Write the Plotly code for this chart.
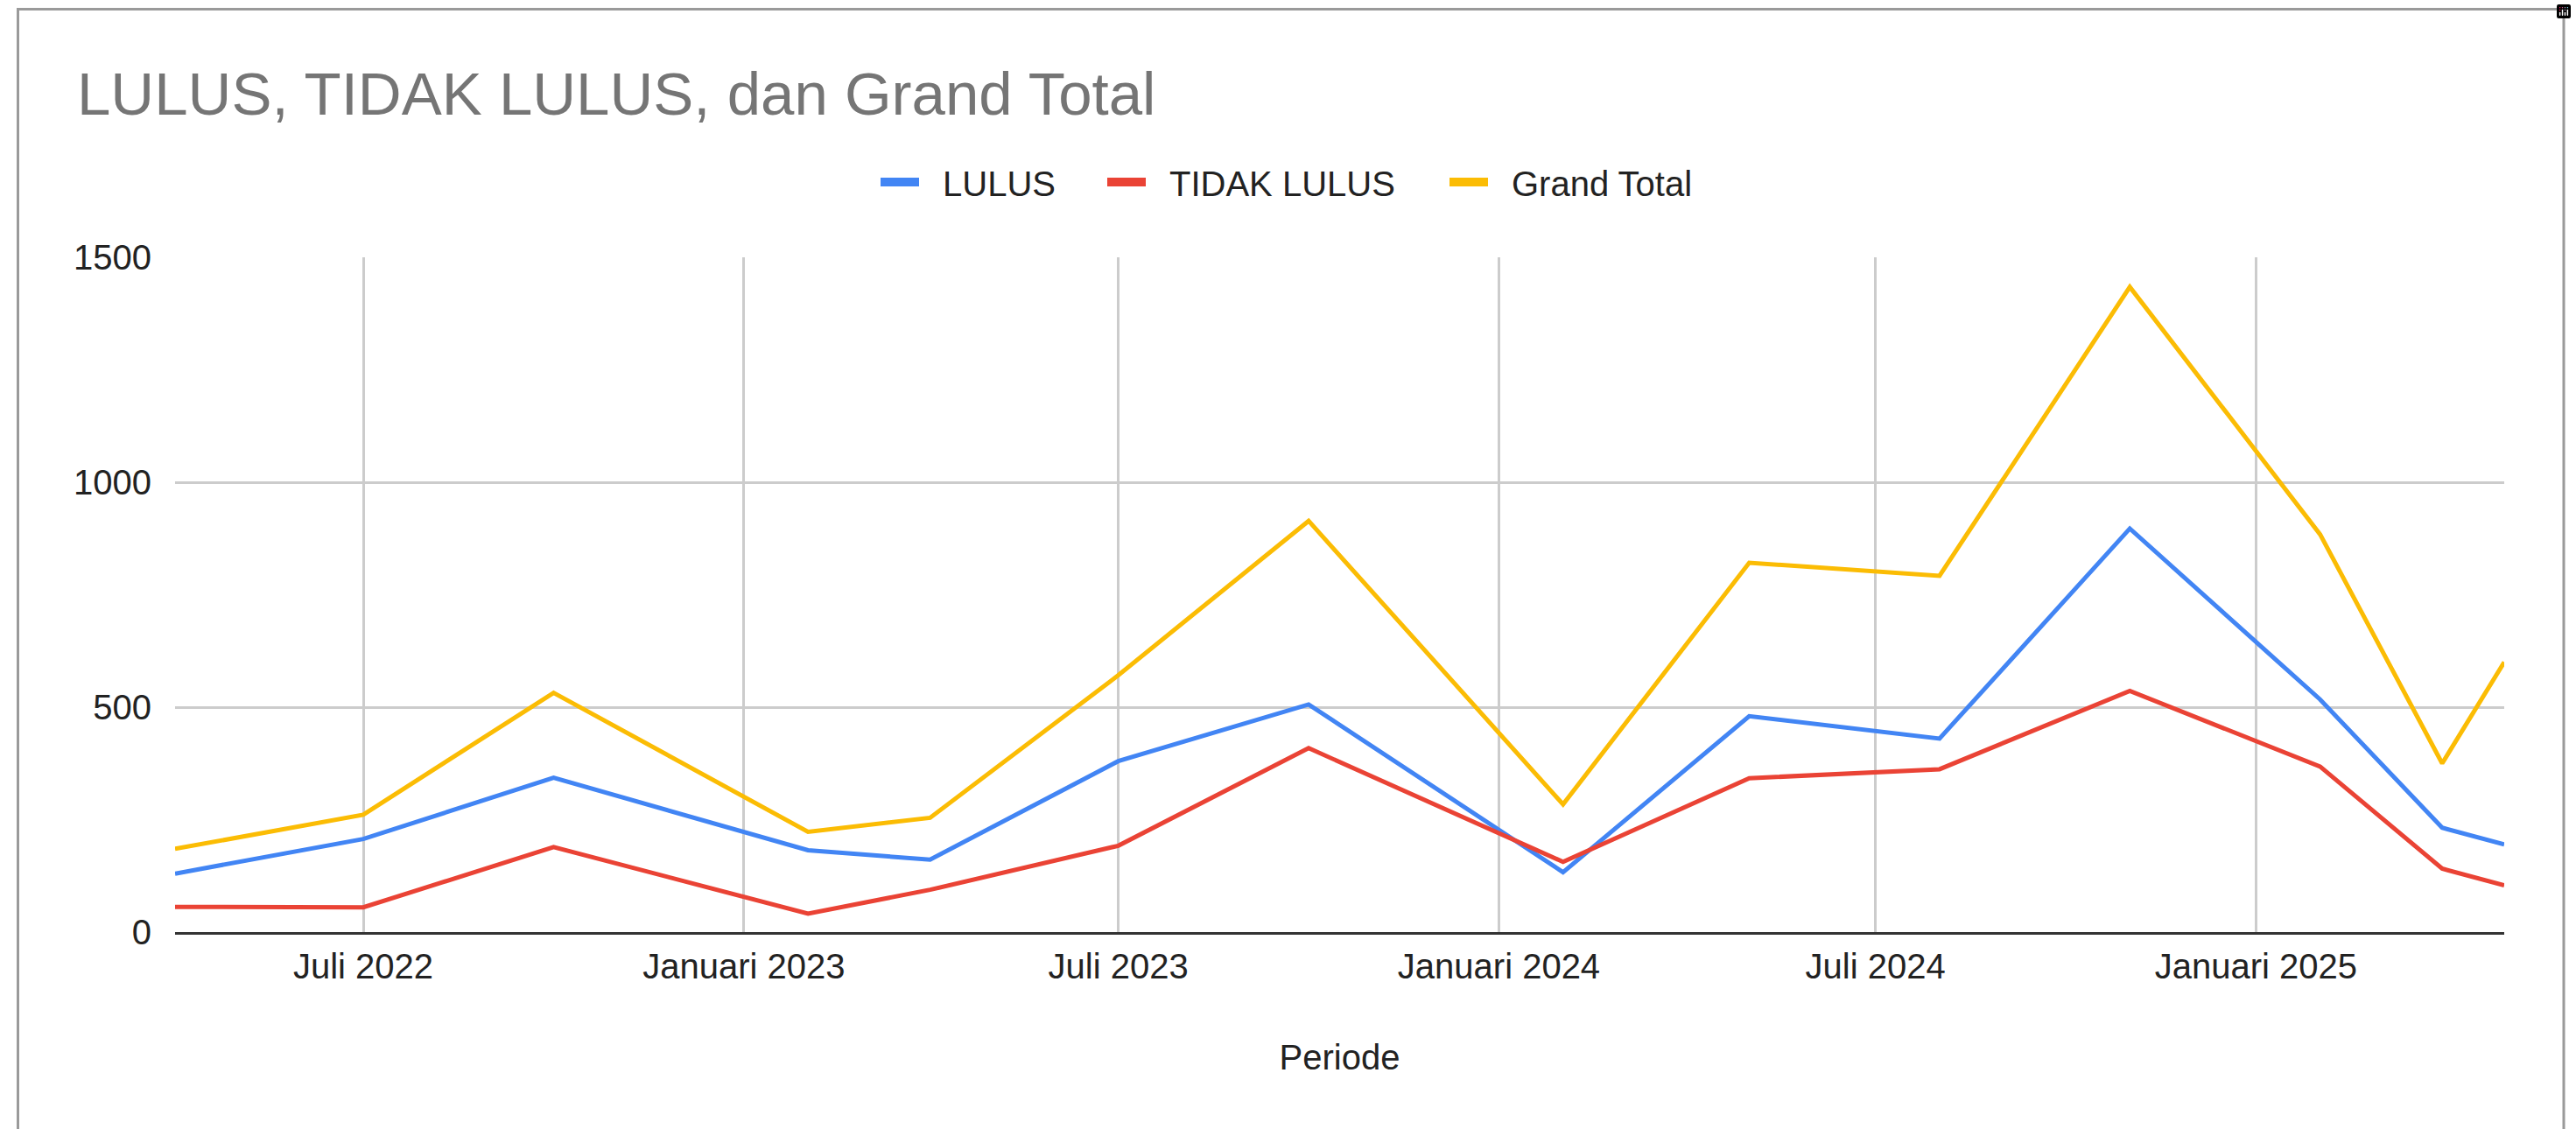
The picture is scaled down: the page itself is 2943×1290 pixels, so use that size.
import plotly.graph_objects as go

# ---- data ----
periode = ["2022-04-01", "2022-07-01", "2022-10-01", "2023-02-01", "2023-04-01",
           "2023-07-01", "2023-10-01", "2024-02-01", "2024-05-01", "2024-08-01",
           "2024-11-01", "2025-02-01", "2025-04-01", "2025-05-01"]
lulus = [130, 207, 343, 182, 161, 380, 506, 133, 480, 430, 897, 517, 232, 195]
tidak_lulus = [56, 55, 189, 41, 94, 192, 409, 156, 342, 362, 536, 368, 141, 104]
grand_total = [185, 261, 532, 223, 254, 571, 914, 284, 821, 792, 1434, 884, 375, 600]

series_names = ["LULUS", "TIDAK LULUS", "Grand Total"]
series_colors = ["#4285F4", "#EA4335", "#FBBC04"]

x_tickvals = ["2022-07-01", "2023-01-01", "2023-07-01", "2024-01-01", "2024-07-01", "2025-01-01"]
x_ticktext = ["Juli 2022", "Januari 2023", "Juli 2023", "Januari 2024", "Juli 2024", "Januari 2025"]
y_tickvals = [0, 500, 1000, 1500]

chart_title = "LULUS, TIDAK LULUS, dan Grand Total"
x_title = "Periode"

# ---- figure ----
W, H = 2943, 1290
ML, MR, MT, MB = 200, 82, 294, 225
FONT = "Liberation Sans, Arial, sans-serif"

fig = go.Figure()
for name, vals, col in zip(series_names, [lulus, tidak_lulus, grand_total], series_colors):
    fig.add_trace(go.Scatter(x=periode, y=vals, mode="lines", name=name,
                             line=dict(color=col, width=5), showlegend=False))

# legend entries: one small legend per series so each swatch/label sits where the reference has it
legend_ids = ["legend", "legend2", "legend3"]
legend_left_px = [1001, 1260, 1651]
for name, col, lid in zip(series_names, series_colors, legend_ids):
    fig.add_trace(go.Scatter(x=[None], y=[None], mode="lines", name=name, legend=lid,
                             line=dict(color=col, width=14, dash="44px,400px"),
                             showlegend=True))

legend_common = dict(orientation="h", xanchor="left", xref="container",
                     y=1 - 208 / H, yanchor="middle", yref="container",
                     font=dict(family=FONT, size=40, color="#222222"),
                     itemwidth=66, bgcolor="rgba(0,0,0,0)", borderwidth=0)
layout_legends = {lid: dict(legend_common, x=lx / W) for lid, lx in zip(legend_ids, legend_left_px)}

pw = W - ML - MR
ph = H - MT - MB
def px_to_paper_x(px):
    return (px - ML) / pw
def px_to_paper_y(py):
    return (H - MB - py) / ph

fig.add_shape(type="rect", xref="paper", yref="paper",
              x0=px_to_paper_x(20.5), x1=px_to_paper_x(2929),
              y0=px_to_paper_y(1320), y1=px_to_paper_y(10.5),
              line=dict(color="#9a9a9a", width=3), fillcolor="rgba(0,0,0,0)", layer="above")

fig.update_layout(
    width=W, height=H,
    margin=dict(l=ML, r=MR, t=MT, b=MB, pad=0),
    paper_bgcolor="white", plot_bgcolor="white",
    font=dict(family=FONT, color="#222222", size=40),
    modebar=dict(bgcolor="rgba(0,0,0,0)", color="rgba(0,0,0,0)", activecolor="rgba(0,0,0,0)"),
    title=dict(text=chart_title, x=88 / W, xanchor="left", xref="container",
               y=1 - 107 / H, yanchor="middle", yref="container",
               font=dict(family=FONT, size=69, color="#757575")),
    xaxis=dict(type="date", range=[periode[0], periode[-1]],
               tickmode="array", tickvals=x_tickvals, ticktext=x_ticktext,
               showgrid=True, gridcolor="#cccccc", gridwidth=3,
               showline=True, linecolor="#333333", linewidth=3,
               zeroline=False, ticks="outside", ticklen=2, tickcolor="rgba(0,0,0,0)",
               tickfont=dict(family=FONT, size=40, color="#222222"),
               title=dict(text=x_title, standoff=69,
                          font=dict(family=FONT, size=40, color="#222222"))),
    yaxis=dict(range=[0, 1500], tickmode="array", tickvals=y_tickvals,
               showgrid=True, gridcolor="#cccccc", gridwidth=2.5,
               zeroline=False, showline=False,
               ticks="outside", ticklen=18, tickcolor="rgba(0,0,0,0)",
               ticklabelstandoff=0,
               tickfont=dict(family=FONT, size=40, color="#222222")),
    **layout_legends,
)

fig.write_html("out.html",
               post_script="document.body.style.margin='0';document.body.style.overflow='hidden';")
